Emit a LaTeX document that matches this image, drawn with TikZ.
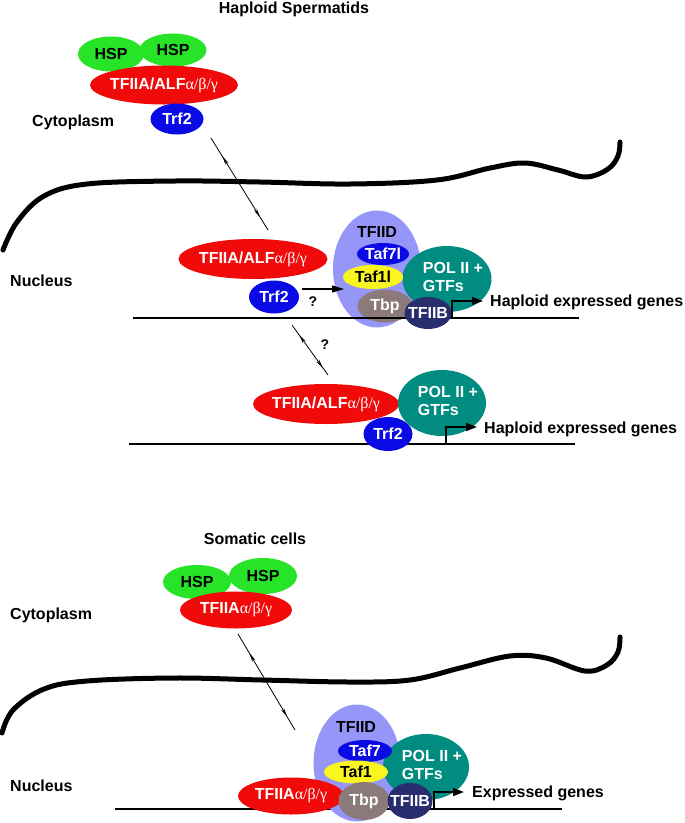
\documentclass[tikz,border=0pt]{standalone}
\usepackage{fontspec}
\setmainfont{Liberation Sans}
\newfontfamily\grk{Liberation Serif}
\usetikzlibrary{shapes.geometric,arrows.meta,decorations.markings}
\definecolor{hspg}{RGB}{40,228,40}
\definecolor{tfred}{RGB}{240,10,10}
\definecolor{trfblue}{RGB}{10,10,228}
\definecolor{tfiidc}{RGB}{150,150,248}
\definecolor{tafy}{RGB}{250,245,30}
\definecolor{tbpc}{RGB}{140,122,122}
\definecolor{polc}{RGB}{0,140,128}
\definecolor{tfiibc}{RGB}{40,45,110}
\newcommand\abg{{\grk\mdseries α/β/γ}}
\newcommand\mklab[1]{\makebox[0pt]{#1}}
\newcommand\polt{\makebox[0pt]{\hspace{12pt}\begin{tabular}{@{}l@{}}POL II +\\GTFs\end{tabular}}}
\begin{document}
\begin{tikzpicture}[x=1pt,y=-1pt,
  ell/.style={ellipse, inner sep=0pt, font=\fontsize{16}{18}\selectfont\bfseries},
  lab/.style={font=\fontsize{16}{18}\selectfont\bfseries, inner sep=0pt},
  qlab/.style={font=\fontsize{14}{16}\selectfont\bfseries, inner sep=0pt},
  memb/.style={line width=5pt, line cap=round},
  dna/.style={line width=2pt},
  prom/.style={line width=1.5pt, -{Triangle[length=11pt,width=8pt]}},
  qarr/.style={line width=1.2pt, -{Triangle[length=12pt,width=7pt]}},
  dbl/.style={line width=0.8pt, postaction={decorate}, decoration={markings,
     mark=at position 0.2 with {\arrowreversed{Stealth[length=9pt,width=3.5pt]}},
     mark=at position 0.86 with {\arrow{Stealth[length=9pt,width=3.5pt]}}}}
]
\useasboundingbox (0,0) rectangle (685,823);

% ---------- Haploid spermatids, cytoplasm ----------
\node[lab] (title1) at (294,9) {Haploid Spermatids};
\node[ell, fill=hspg, minimum width=66pt, minimum height=35pt] (hsp1) at (111,54) {\mklab{HSP}};
\node[ell, fill=hspg, minimum width=67pt, minimum height=33pt] (hsp2) at (173,50) {\mklab{HSP}};
\node[ell, fill=tfred, text=white, minimum width=148pt, minimum height=39pt] (alf1) at (164,85) {\mklab{TFIIA/ALF\abg}};
\node[ell, fill=trfblue, text=white, minimum width=53pt, minimum height=31pt] (trf1) at (177,119) {\mklab{Trf2}};
\node[lab, anchor=west] (cyto1) at (32,122) {Cytoplasm};

% membrane 1
\draw[memb] plot[smooth, tension=0.6] coordinates {(3,250) (17,222) (44,196) (87,184) (175,181) (260,182) (350,184) (437,180) (490,168) (525,163) (558,170) (586,177) (608,169) (618,156) (620,142)};
\coordinate (a1s) at (211,138);
\coordinate (a1e) at (268,230);
\draw[dbl] (a1s) -- (a1e);

% ---------- Haploid nucleus, complex 1 ----------
\node[lab, anchor=west] (nuc1) at (10,281) {Nucleus};
\node[ell, fill=tfred, text=white, minimum width=149pt, minimum height=40pt] (alf2) at (253,259) {\mklab{TFIIA/ALF\abg}};
\node[ell, fill=trfblue, text=white, minimum width=50pt, minimum height=33pt] (trf2) at (274,297) {\mklab{Trf2}};
\node[ell, fill=tfiidc, minimum width=88pt, minimum height=117pt] (tfiid1) at (377,269) {};
\node[lab] (tfiidl1) at (377,232) {TFIID};
\node[ell, fill=polc, text=white, minimum width=89pt, minimum height=66pt] (pol1) at (447,279) {\polt};
\node[ell, fill=trfblue, text=white, minimum width=52pt, minimum height=22pt] (taf7l) at (383,254) {\mklab{Taf7l}};
\node[ell, fill=tafy, minimum width=60pt, minimum height=24pt] (taf1l) at (373,277) {\mklab{Taf1l}};
\node[ell, fill=tbpc, text=white, minimum width=55pt, minimum height=33pt] (tbp1) at (385,306) {\mklab{Tbp}};
\coordinate (d1a) at (133,318);
\coordinate (d1b) at (579,318);
\draw[dna] (d1a) -- (d1b);
\node[ell, fill=tfiibc, text=white, minimum width=47pt, minimum height=32pt] (tfiib1) at (428,313) {\mklab{TFIIB}};
\coordinate (p1s) at (452,318);
\coordinate (p1e) at (483,301);
\draw[prom] (p1s) |- (p1e);
\node[lab, anchor=west] (hex1) at (490,302) {Haploid expressed genes};
\coordinate (q1s) at (302,289);
\coordinate (q1e) at (344,289);
\draw[qarr] (q1s) -- (q1e);
\node[qlab] (qm1) at (313,302) {?};

% second double arrow
\coordinate (a2s) at (292,325);
\coordinate (a2e) at (328,375);
\draw[dbl] (a2s) -- (a2e);
\node[qlab] (qm2) at (325,345) {?};

% ---------- Haploid nucleus, complex 2 ----------
\coordinate (d2a) at (129,444);
\coordinate (d2b) at (575,444);
\draw[dna] (d2a) -- (d2b);
\node[ell, fill=tfred, text=white, minimum width=146pt, minimum height=40pt] (alf3) at (326,404) {\mklab{TFIIA/ALF\abg}};
\node[ell, fill=polc, text=white, minimum width=88pt, minimum height=66pt] (pol2) at (442,403) {\polt};
\node[ell, fill=trfblue, text=white, minimum width=49pt, minimum height=34pt] (trf3) at (388,434) {\mklab{Trf2}};
\coordinate (p2s) at (446,444);
\coordinate (p2e) at (477,427);
\draw[prom] (p2s) |- (p2e);
\node[lab, anchor=west] (hex2) at (484,429) {Haploid expressed genes};

% ---------- Somatic cells ----------
\node[lab] (title2) at (255,539) {Somatic cells};
\node[ell, fill=hspg, minimum width=68pt, minimum height=34pt] (hsp3) at (197,582) {\mklab{HSP}};
\node[ell, fill=hspg, minimum width=68pt, minimum height=36pt] (hsp4) at (263,576) {\mklab{HSP}};
\node[ell, fill=tfred, text=white, minimum width=112pt, minimum height=37pt] (tfa1) at (236,610) {\mklab{TFIIA\abg}};
\node[lab, anchor=west] (cyto2) at (10,615) {Cytoplasm};

% membrane 2
\draw[memb] plot[smooth, tension=0.6] coordinates {(2,733) (13,710) (44,689) (87,681) (175,678) (262,680) (350,682) (410,680) (460,668) (510,656) (546,658) (585,671) (607,665) (618,652) (620,637)};
\coordinate (a3s) at (238,634);
\coordinate (a3e) at (295,730);
\draw[dbl] (a3s) -- (a3e);

\node[lab, anchor=west] (nuc2) at (10,786) {Nucleus};
\coordinate (d3a) at (115,809);
\coordinate (d3b) at (562,809);
\draw[dna] (d3a) -- (d3b);
\node[ell, fill=tfiidc, minimum width=87pt, minimum height=117pt] (tfiid2) at (357,763) {};
\node[lab] (tfiidl2) at (356,727) {TFIID};
\node[ell, fill=polc, text=white, minimum width=86pt, minimum height=66pt] (pol3) at (426,767) {\polt};
\node[ell, fill=trfblue, text=white, minimum width=54pt, minimum height=22pt] (taf7) at (365,751) {\mklab{Taf7}};
\node[ell, fill=tafy, minimum width=64pt, minimum height=23pt] (taf1) at (356,772) {\mklab{Taf1}};
\node[ell, fill=tfred, text=white, minimum width=106pt, minimum height=37pt] (tfa2) at (291,796) {\mklab{TFIIA\abg}};
\node[ell, fill=tbpc, text=white, minimum width=51pt, minimum height=38pt] (tbp2) at (364,801) {\mklab{Tbp}};
\node[ell, fill=tfiibc, text=white, minimum width=45pt, minimum height=36pt] (tfiib2) at (410,801) {\mklab{TFIIB}};
\coordinate (p3s) at (434,809);
\coordinate (p3e) at (464,792);
\draw[prom] (p3s) |- (p3e);
\node[lab, anchor=west] (exg) at (472,793) {Expressed genes};
\end{tikzpicture}
\end{document}
